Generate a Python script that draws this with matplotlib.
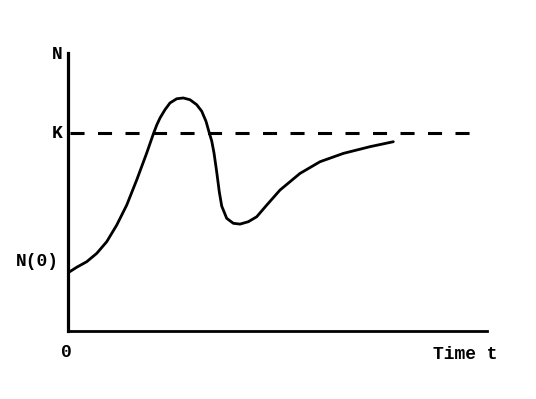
import matplotlib

matplotlib.use("Agg")
import matplotlib.pyplot as plt

# population N(t), K normalised to 1
t_vals = [0.0, 0.87, 1.87, 2.87, 3.87, 4.87, 5.87, 6.87, 7.87, 8.53, 8.87,
          9.2, 9.7, 10.2, 10.87, 11.53, 12.2, 12.87, 13.37, 13.8, 14.13,
          14.37, 14.6, 14.87, 15.13, 15.37, 15.87, 16.53, 17.2, 18.03, 18.87,
          19.87, 21.2, 23.2, 25.2, 27.53, 30.2, 32.53]
n_vals = [0.294, 0.322, 0.350, 0.392, 0.451, 0.535, 0.636, 0.763, 0.899,
          0.995, 1.040, 1.076, 1.118, 1.152, 1.173, 1.177, 1.168, 1.143,
          1.110, 1.059, 1.0, 0.960, 0.899, 0.803, 0.702, 0.631, 0.569,
          0.544, 0.540, 0.552, 0.577, 0.636, 0.712, 0.796, 0.855, 0.897,
          0.931, 0.956]
K = 1.0
K_LINE_END = 40.4
N0_LABEL_Y = 0.35

FONT = "Liberation Mono"

fig = plt.figure(figsize=(5.36, 3.99), dpi=100)
ax = fig.add_axes([0.1269, 0.1704, 0.7817, 0.6967])

ax.plot(t_vals, n_vals, color="black", lw=2.0, solid_joinstyle="round",
        solid_capstyle="round")
ax.plot([0.2, K_LINE_END], [K, K], color="black", lw=2.2,
        dashes=(4.6, 4.4))

ax.set_xlim(0, 41.9)
ax.set_ylim(0, 1.404)
ax.set_xticks([])
ax.set_yticks([])
for side in ("top", "right"):
    ax.spines[side].set_visible(False)
ax.spines["left"].set_linewidth(2.3)
ax.spines["bottom"].set_linewidth(2.0)

txt = dict(fontsize=13, family=FONT, fontweight="bold", color="black")
ytr = ax.get_yaxis_transform()
ax.text(-0.012, 0.996, "N", transform=ax.transAxes, ha="right", va="center", **txt)
ax.text(-0.012, K, "K", transform=ytr, ha="right", va="center", **txt)
ax.text(-0.022, N0_LABEL_Y, "N(0)", transform=ytr, ha="right", va="center", **txt)
ax.text(-0.005, -0.079, "0", transform=ax.transAxes, ha="center", va="center", **txt)
ax.text(0.9475, -0.086, "Time t", transform=ax.transAxes, ha="center", va="center", **txt)

fig.savefig("out.png", dpi=100)
plt.close(fig)
